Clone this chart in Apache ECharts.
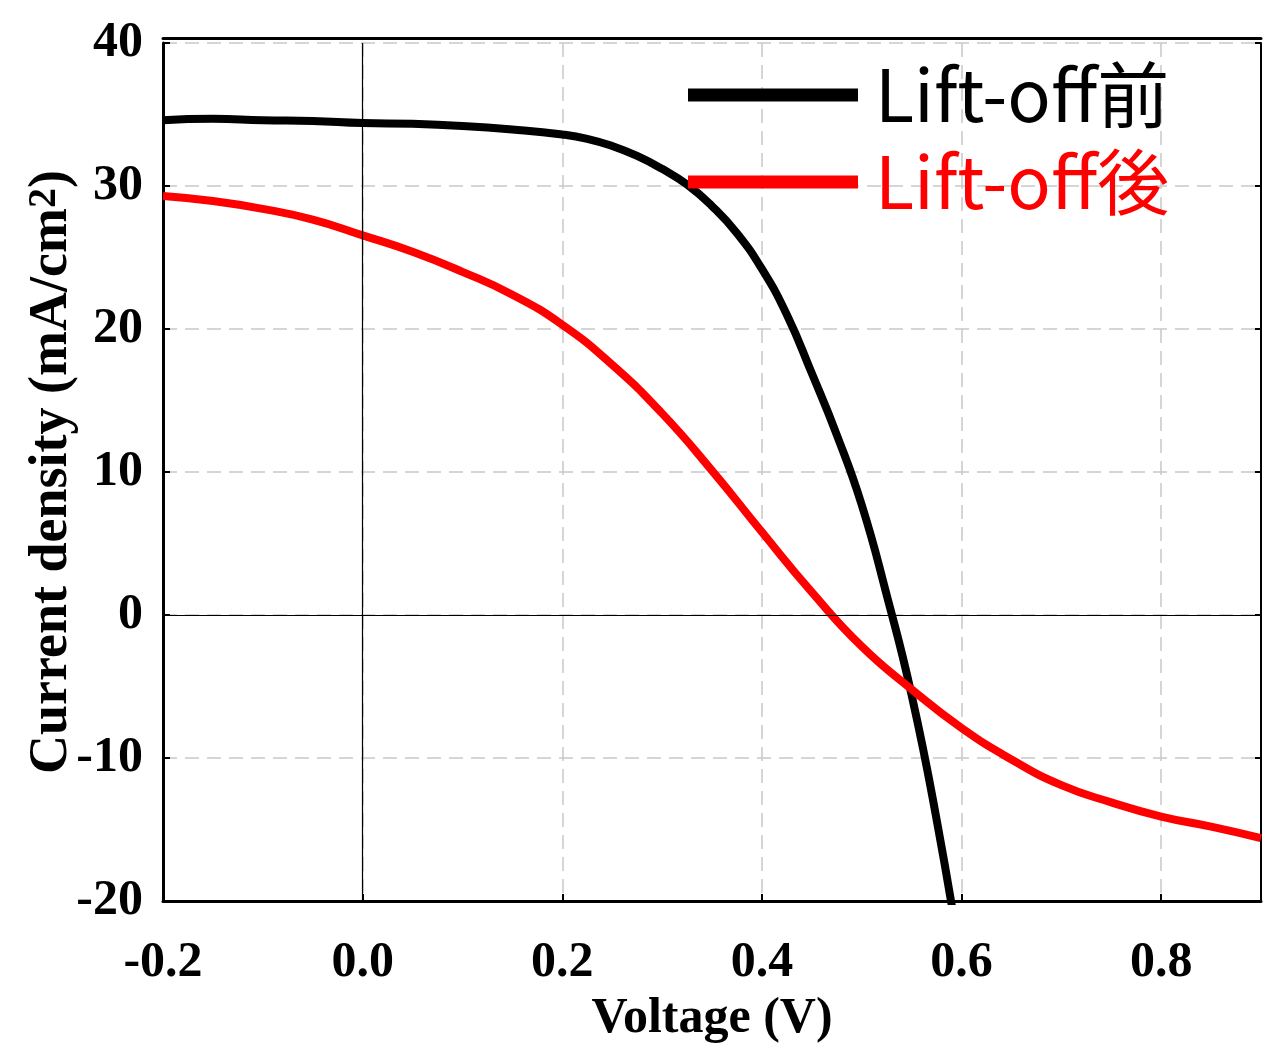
<!DOCTYPE html>
<html>
<head>
<meta charset="utf-8">
<script src="https://cdn.jsdelivr.net/npm/echarts@6/dist/echarts.min.js"></script>
<style>
  html, body { margin: 0; padding: 0; background: #fff; }
  #main { width: 1263px; height: 1043px; }
</style>
</head>
<body>
<div id="main"></div>
<script>
// J-V 曲線データ
const voltBefore = [-0.2, -0.15, -0.1, -0.05, 0.0, 0.05, 0.1, 0.15, 0.2, 0.225, 0.25, 0.275, 0.3, 0.325, 0.35, 0.375, 0.4, 0.425, 0.45, 0.475, 0.5, 0.525, 0.55, 0.575, 0.6];
const currBefore = [34.6, 34.7, 34.6, 34.55, 34.4, 34.35, 34.2, 33.95, 33.6, 33.3, 32.8, 32.1, 31.2, 30.1, 28.6, 26.7, 24.2, 21.0, 16.9, 12.6, 7.7, 1.4, -5.6, -14.3, -24.5];

const voltAfter = [-0.2, -0.15, -0.1, -0.05, 0.0, 0.05, 0.1, 0.15, 0.2, 0.25, 0.3, 0.35, 0.4, 0.45, 0.5, 0.55, 0.6, 0.65, 0.7, 0.75, 0.8, 0.85, 0.9];
const currAfter = [29.3, 28.95, 28.4, 27.65, 26.55, 25.4, 24.0, 22.4, 20.3, 17.5, 14.1, 10.1, 5.8, 1.6, -2.2, -5.2, -7.9, -10.1, -11.9, -13.1, -14.1, -14.8, -15.6];

const seriesNames = ['Lift-off前', 'Lift-off後'];
const xTicks = { min: -0.2, max: 0.9, step: 0.2 };
const yTicks = { min: -20, max: 40, step: 10 };

const serif = 'Liberation Serif';
const dashGrid = { show: true, lineStyle: { color: '#c8c8c8', type: [14, 8], width: 1.5 } };

const chart = echarts.init(document.getElementById('main'));
chart.setOption({
  backgroundColor: '#fff',
  animation: false,
  grid: { left: 163, right: 2, top: 43, bottom: 142, containLabel: false, outerBoundsMode: 'none' },
  legend: {
    orient: 'vertical',
    left: 683,
    top: 48,
    itemWidth: 170,
    itemHeight: 13,
    itemGap: 3,
    icon: 'rect',
    data: seriesNames,
    textStyle: {
      color: 'inherit',
      fontFamily: 'Noto Sans CJK JP',
      fontSize: 72,
      lineHeight: 84,
      padding: [0, 0, 0, 12]
    }
  },
  xAxis: [{
    type: 'value',
    min: xTicks.min,
    max: xTicks.max,
    interval: xTicks.step,
    name: 'Voltage (V)',
    nameLocation: 'middle',
    nameGap: 93,
    nameTextStyle: { fontFamily: serif, fontWeight: 'bold', fontSize: 50, color: '#000' },
    axisLine: { onZero: false, lineStyle: { color: '#000', width: 3 } },
    axisTick: { inside: true, length: 7, lineStyle: { color: '#000', width: 2 } },
    axisLabel: {
      margin: 37, showMaxLabel: false,
      fontFamily: serif, fontWeight: 'bold', fontSize: 50, color: '#000',
      formatter: v => v.toFixed(1)
    },
    splitLine: dashGrid
  }, {
    type: 'value',
    position: 'top',
    offset: 5,
    min: xTicks.min,
    max: xTicks.max,
    interval: xTicks.step,
    axisLine: { onZero: false, lineStyle: { color: '#000', width: 3 } },
    axisTick: { show: false },
    axisLabel: { show: false },
    splitLine: { show: false }
  }],
  yAxis: [{
    type: 'value',
    min: yTicks.min,
    max: yTicks.max,
    interval: yTicks.step,
    name: '{t|Current density (mA/cm}{sup|2}{t|)}',
    nameLocation: 'middle',
    nameGap: 84,
    nameMoveOverlap: false,
    nameTextStyle: {
      fontFamily: serif, fontWeight: 'bold', fontSize: 54, color: '#000',
      rich: {
        t: { fontFamily: serif, fontWeight: 'bold', fontSize: 54, lineHeight: 54, verticalAlign: 'bottom', color: '#000' },
        sup: { fontFamily: serif, fontWeight: 'bold', fontSize: 40, lineHeight: 40, verticalAlign: 'top', color: '#000' }
      }
    },
    axisLine: { onZero: false, lineStyle: { color: '#000', width: 3 } },
    axisTick: { inside: true, length: 7, lineStyle: { color: '#000', width: 2 } },
    axisLabel: { margin: 20, padding: [8, 0, 0, 0], fontFamily: serif, fontWeight: 'bold', fontSize: 50, color: '#000' },
    splitLine: dashGrid
  }, {
    type: 'value',
    position: 'right',
    min: yTicks.min,
    max: yTicks.max,
    interval: yTicks.step,
    axisLine: { show: true, onZero: false, lineStyle: { color: '#000', width: 2 } },
    axisTick: { inside: true, length: 6, lineStyle: { color: '#000', width: 2 } },
    axisLabel: { show: false },
    splitLine: { show: false }
  }],
  series: [{
    name: seriesNames[0],
    type: 'line',
    data: voltBefore.map((v, i) => [v, currBefore[i]]),
    showSymbol: false,
    smooth: 0.5,
    clip: true,
    lineStyle: { color: '#000', width: 8 },
    itemStyle: { color: '#000' },
    z: 3,
    markLine: {
      silent: true,
      symbol: 'none',
      label: { show: false },
      lineStyle: { color: '#000', width: 1.2, type: 'solid' },
      data: [{ xAxis: 0 }, { yAxis: 0 }]
    }
  }, {
    name: seriesNames[1],
    type: 'line',
    data: voltAfter.map((v, i) => [v, currAfter[i]]),
    showSymbol: false,
    smooth: 0.5,
    clip: true,
    lineStyle: { color: '#ff0000', width: 8 },
    itemStyle: { color: '#ff0000' },
    z: 4
  }]
});
</script>
</body>
</html>
